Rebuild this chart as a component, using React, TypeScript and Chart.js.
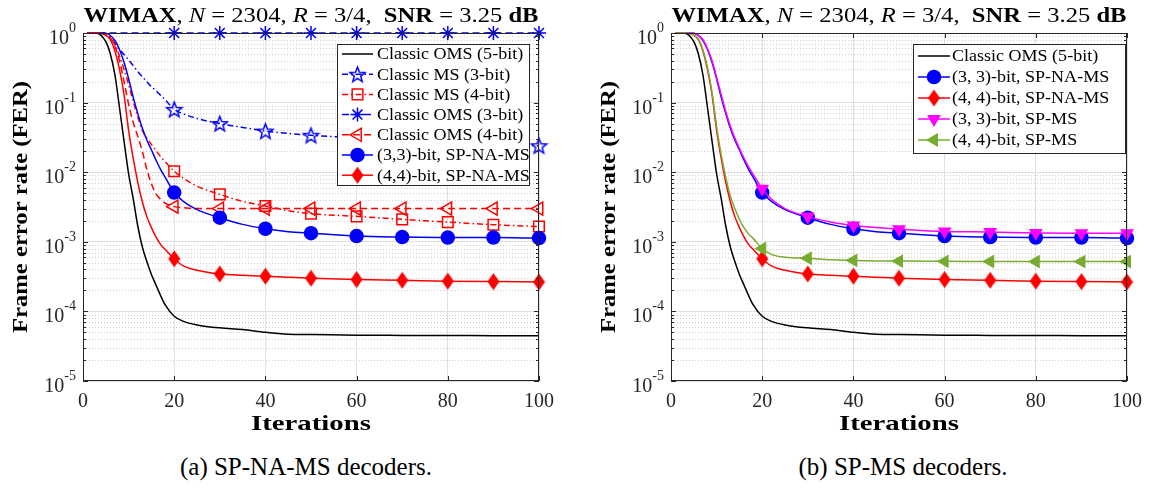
import React, { useEffect, useRef } from 'react';
import { Chart, registerables } from 'chart.js';
import { drawPoint } from 'chart.js/helpers';

Chart.register(...registerables);

const FONT = '"Liberation Serif", "Times New Roman", serif';
const AXIS_COLOR = '#262626';
const CANVAS_H = 440;
const PLOT_TOP = 33;
const PLOT_BOTTOM = 381;
const PLOT_LEFT = 83;

// ---------------- data ----------------
const ITERS = [1, 3, 5, 6, 7, 8, 9, 10, 11, 12, 13, 14, 15, 16, 17, 18, 20, 22, 25, 30, 35, 40, 45, 50, 60, 70, 80, 90, 100];
const MARKER_ITERS = [20, 30, 40, 50, 60, 70, 80, 90, 100];
const X_TICKS = [0, 20, 40, 60, 80, 100];
const Y_TICKS = [1e-5, 1e-4, 1e-3, 1e-2, 1e-1, 1];
const Y_EXPONENTS = ['-5', '-4', '-3', '-2', '-1', '0'];

const classicOms5 = [1, 0.995, 0.75, 0.5, 0.25, 0.085, 0.028, 0.0095, 0.0042, 0.0017, 0.00085, 0.00052, 0.00034, 0.00024, 0.00017, 0.000125, 0.000085, 0.000072, 0.000064, 0.000058, 0.000055, 0.00005, 0.000047, 0.0000465, 0.0000455, 0.0000452, 0.000045, 0.0000448, 0.0000445];
const classicMs3 = [1, 1, 0.94, 0.84, 0.7, 0.58, 0.49, 0.41, 0.34, 0.28, 0.235, 0.2, 0.17, 0.148, 0.128, 0.11, 0.08, 0.069, 0.059, 0.05, 0.044, 0.039, 0.036, 0.034, 0.031, 0.0285, 0.0265, 0.025, 0.024];
const classicMs4 = [1, 1, 0.97, 0.87, 0.68, 0.47, 0.3, 0.18, 0.105, 0.063, 0.04, 0.031, 0.025, 0.0205, 0.0168, 0.0142, 0.0103, 0.0082, 0.0063, 0.0048, 0.0038, 0.00327, 0.0028, 0.00254, 0.00232, 0.0021, 0.00192, 0.00176, 0.00166];
const classicOms3 = [1, 1, 1, 1, 1, 1, 1, 1, 1, 1, 1, 1, 1, 1, 1, 1, 1, 1, 1, 1, 1, 1, 1, 1, 1, 1, 1, 1, 1];
const classicOms4 = [1, 1, 0.95, 0.85, 0.64, 0.4, 0.2, 0.095, 0.052, 0.033, 0.02, 0.011, 0.0068, 0.0049, 0.0041, 0.0036, 0.0032, 0.0031, 0.003, 0.003, 0.003, 0.003, 0.003, 0.003, 0.003, 0.003, 0.003, 0.003, 0.003];
const spNaMs33 = [1, 1, 0.99, 0.92, 0.78, 0.58, 0.38, 0.22, 0.12, 0.07, 0.043, 0.029, 0.021, 0.015, 0.011, 0.0085, 0.0051, 0.0038, 0.0029, 0.00222, 0.00178, 0.00154, 0.0014, 0.00133, 0.00121, 0.00117, 0.00115, 0.00115, 0.00113];
const spNaMs44 = [1, 1, 0.93, 0.8, 0.55, 0.3, 0.13, 0.04, 0.016, 0.0072, 0.0038, 0.0023, 0.0016, 0.00118, 0.00092, 0.00078, 0.00057, 0.00045, 0.00039, 0.000345, 0.00033, 0.00032, 0.00031, 0.0003, 0.000287, 0.00028, 0.000272, 0.000268, 0.000265];
const spMs33 = [1, 1, 0.99, 0.93, 0.8, 0.6, 0.4, 0.23, 0.13, 0.075, 0.046, 0.031, 0.022, 0.016, 0.012, 0.0093, 0.0058, 0.0041, 0.003, 0.0023, 0.00193, 0.00172, 0.0016, 0.00152, 0.00141, 0.00138, 0.00134, 0.00133, 0.00133];
const spMs44 = [1, 1, 0.94, 0.82, 0.57, 0.32, 0.14, 0.045, 0.018, 0.0085, 0.0046, 0.003, 0.0021, 0.0016, 0.0013, 0.00112, 0.0008, 0.00066, 0.0006, 0.00058, 0.00055, 0.00054, 0.000532, 0.000528, 0.000524, 0.000522, 0.00052, 0.00052, 0.00052];

const TITLE_PARTS: [string, string][] = [
  ['WIMAX', 'bold'], [', ', 'normal'], ['N', 'italic'], [' = 2304, ', 'normal'], ['R', 'italic'],
  [' = 3/4,  ', 'normal'], ['SNR', 'bold'], [' = 3.25 ', 'normal'], ['dB', 'bold'],
];

// ---------------- marker images ----------------
function makePentagram(color: string) {
  const c = document.createElement('canvas');
  const s = 19;
  c.width = s; c.height = s;
  const g = c.getContext('2d')!;
  g.strokeStyle = color; g.lineWidth = 1.5; g.lineJoin = 'miter';
  g.beginPath();
  const R = 8, r = 3.4;
  for (let i = 0; i < 10; i++) {
    const a = -Math.PI / 2 + (i * Math.PI) / 5;
    const rr = i % 2 ? r : R;
    const x = s / 2 + rr * Math.cos(a);
    const y = s / 2 + 0.8 + rr * Math.sin(a);
    if (i) g.lineTo(x, y); else g.moveTo(x, y);
  }
  g.closePath(); g.stroke();
  return c;
}
function makeDiamond(color: string) {
  const c = document.createElement('canvas');
  c.width = 13; c.height = 18;
  const g = c.getContext('2d')!;
  g.fillStyle = color;
  g.beginPath();
  g.moveTo(6.5, 0.5); g.lineTo(12.5, 9); g.lineTo(6.5, 17.5); g.lineTo(0.5, 9); g.closePath();
  g.fill();
  return c;
}

const DASHED = [7, 4];
const DASHDOT = [6, 3, 1.5, 3];

type S = { label: string; y: number[]; color: string; dash: number[]; style: any; radius: number; rot: number; fill: boolean; };

function seriesLeft(): S[] {
  const star = makePentagram('#0000ff');
  const diamond = makeDiamond('#ff0000');
  return [
    { label: 'Classic OMS (5-bit)', y: classicOms5, color: '#000000', dash: [], style: 'circle', radius: 0, rot: 0, fill: false },
    { label: 'Classic MS (3-bit)', y: classicMs3, color: '#0000ff', dash: DASHDOT, style: star, radius: 7, rot: 0, fill: false },
    { label: 'Classic MS (4-bit)', y: classicMs4, color: '#ff0000', dash: DASHDOT, style: 'rect', radius: 7.5, rot: 0, fill: false },
    { label: 'Classic OMS (3-bit)', y: classicOms3, color: '#0000ff', dash: DASHED, style: 'star', radius: 7, rot: 0, fill: false },
    { label: 'Classic OMS (4-bit)', y: classicOms4, color: '#ff0000', dash: DASHED, style: 'triangle', radius: 7.5, rot: -90, fill: false },
    { label: '(3,3)-bit, SP-NA-MS', y: spNaMs33, color: '#0000ff', dash: [], style: 'circle', radius: 6.5, rot: 0, fill: true },
    { label: '(4,4)-bit, SP-NA-MS', y: spNaMs44, color: '#ff0000', dash: [], style: diamond, radius: 7, rot: 0, fill: true },
  ];
}
function seriesRight(): S[] {
  const diamond = makeDiamond('#ff0000');
  return [
    { label: 'Classic OMS (5-bit)', y: classicOms5, color: '#000000', dash: [], style: 'circle', radius: 0, rot: 0, fill: false },
    { label: '(3, 3)-bit, SP-NA-MS', y: spNaMs33, color: '#0000ff', dash: [], style: 'circle', radius: 6.5, rot: 0, fill: true },
    { label: '(4, 4)-bit, SP-NA-MS', y: spNaMs44, color: '#ff0000', dash: [], style: diamond, radius: 7, rot: 0, fill: true },
    { label: '(3, 3)-bit, SP-MS', y: spMs33, color: '#ff00ff', dash: [], style: 'triangle', radius: 6.5, rot: 180, fill: true },
    { label: '(4, 4)-bit, SP-MS', y: spMs44, color: '#77ac30', dash: [], style: 'triangle', radius: 6.5, rot: -90, fill: true },
  ];
}

// draw text horizontally stretched to a target width (mimics wide TeX fonts)
function fillStretched(ctx: CanvasRenderingContext2D, text: string, cx: number, cy: number, target: number) {
  const w = ctx.measureText(text).width;
  const sx = target / w;
  ctx.save();
  ctx.translate(cx, cy);
  ctx.scale(sx, 1);
  ctx.textAlign = 'center';
  ctx.fillText(text, 0, 0);
  ctx.restore();
}

const matlabPlugin = {
  id: 'matlab',
  beforeDatasetsDraw(chart: any) {
    const { ctx, chartArea: a, scales } = chart;
    const y = scales.y;
    ctx.save();
    ctx.strokeStyle = '#cfcfcf'; ctx.lineWidth = 1; ctx.setLineDash([1, 2]);
    for (let e = -5; e < 0; e++) {
      for (let m = 2; m <= 9; m++) {
        const py = Math.round(y.getPixelForValue(m * Math.pow(10, e))) + 0.5;
        ctx.beginPath(); ctx.moveTo(a.left, py); ctx.lineTo(a.right, py); ctx.stroke();
      }
    }
    ctx.restore();
  },
  afterDatasetsDraw(chart: any, _args: any, opts: any) {
    const { ctx, chartArea: a, scales } = chart;
    const x = scales.x, y = scales.y;
    ctx.save();
    // axes box and ticks
    ctx.strokeStyle = AXIS_COLOR; ctx.lineWidth = 1; ctx.setLineDash([]);
    ctx.strokeRect(a.left + 0.5, a.top + 0.5, a.right - a.left - 1, a.bottom - a.top - 1);
    ctx.beginPath();
    for (const v of X_TICKS) {
      const px = Math.round(x.getPixelForValue(v)) + 0.5;
      ctx.moveTo(px, a.bottom); ctx.lineTo(px, a.bottom - 5);
      ctx.moveTo(px, a.top); ctx.lineTo(px, a.top + 5);
    }
    for (let e = -5; e <= 0; e++) {
      for (let m = 1; m <= 9; m++) {
        if (e === 0 && m > 1) break;
        const py = Math.round(y.getPixelForValue(m * Math.pow(10, e))) + 0.5;
        const len = m === 1 ? 5 : 3;
        ctx.moveTo(a.left, py); ctx.lineTo(a.left + len, py);
        ctx.moveTo(a.right, py); ctx.lineTo(a.right - len, py);
      }
    }
    ctx.stroke();

    // y tick labels with superscripts
    ctx.fillStyle = AXIS_COLOR;
    ctx.textBaseline = 'alphabetic';
    Y_TICKS.forEach((v, i) => {
      const py = y.getPixelForValue(v);
      const sup = Y_EXPONENTS[i];
      ctx.font = `14px ${FONT}`;
      const ws = ctx.measureText(sup).width;
      ctx.font = `20px ${FONT}`;
      const wm = ctx.measureText('10').width;
      const right = a.left - 7;
      ctx.fillText('10', right - ws - wm, py + 11);
      ctx.font = `14px ${FONT}`;
      ctx.fillText(sup, right - ws, py - 1);
    });

    // axis titles
    ctx.fillStyle = '#000';
    ctx.font = `bold 21px ${FONT}`;
    ctx.textBaseline = 'middle';
    fillStretched(ctx, 'Iterations', (a.left + a.right) / 2, 425, 120);
    ctx.save();
    ctx.translate(a.left - 61, (a.top + a.bottom) / 2);
    ctx.rotate(-Math.PI / 2);
    fillStretched(ctx, 'Frame error rate (FER)', 0, 0, 252);
    ctx.restore();

    // title (mixed bold / italic / regular)
    ctx.textAlign = 'left'; ctx.textBaseline = 'alphabetic';
    const fontFor = (w: string) => (w === 'bold' ? `bold 21px ${FONT}` : w === 'italic' ? `italic 21px ${FONT}` : `21px ${FONT}`);
    let total = 0;
    for (const [t, w] of TITLE_PARTS) { ctx.font = fontFor(w); total += ctx.measureText(t).width; }
    const target = 455;
    const sx = target / total;
    ctx.save();
    ctx.translate((a.left + a.right) / 2 - target / 2, 22);
    ctx.scale(sx, 1);
    let tx = 0;
    for (const [t, w] of TITLE_PARTS) { ctx.font = fontFor(w); ctx.fillText(t, tx, 0); tx += ctx.measureText(t).width; }
    ctx.restore();

    // legend
    const L = opts.legend;
    const series: S[] = opts.series;
    ctx.fillStyle = '#ffffff';
    ctx.fillRect(L.x, L.y, L.w, L.h);
    ctx.strokeStyle = AXIS_COLOR; ctx.lineWidth = 1;
    ctx.strokeRect(L.x + 0.5, L.y + 0.5, L.w, L.h);
    series.forEach((s, i) => {
      const cy = L.y0 + i * L.dy;
      ctx.setLineDash(s.dash); ctx.strokeStyle = s.color; ctx.lineWidth = 1.5;
      ctx.beginPath(); ctx.moveTo(L.lx0, cy); ctx.lineTo(L.lx1, cy); ctx.stroke();
      ctx.setLineDash([]);
      if (s.radius > 0) {
        ctx.fillStyle = s.fill ? s.color : 'rgba(0,0,0,0)';
        ctx.strokeStyle = s.color; ctx.lineWidth = 1.5;
        drawPoint(ctx, { pointStyle: s.style, radius: s.radius, rotation: s.rot, borderWidth: 1.5 } as any, (L.lx0 + L.lx1) / 2, cy);
      }
      ctx.fillStyle = '#000'; ctx.font = `17px ${FONT}`; ctx.textBaseline = 'middle'; ctx.textAlign = 'left';
      ctx.save();
      ctx.translate(L.tx, cy + 1);
      ctx.scale(1.06, 1);
      ctx.fillText(s.label, 0, 0);
      ctx.restore();
    });
    ctx.restore();
  },
};

function Plot(props: { width: number; padRight: number; seriesFn: () => S[]; legend: any; left: number }) {
  const ref = useRef<HTMLCanvasElement>(null);
  useEffect(() => {
    const series = props.seriesFn();
    const datasets = series.map((s, i) => ({
      label: s.label,
      data: ITERS.map((it, k) => ({ x: it, y: s.y[k] })),
      borderColor: s.color,
      backgroundColor: s.fill ? s.color : 'rgba(0,0,0,0)',
      borderWidth: 1.5,
      borderDash: s.dash,
      pointStyle: s.style,
      rotation: s.rot,
      pointBorderWidth: 1.5,
      pointBackgroundColor: s.fill ? s.color : 'rgba(0,0,0,0)',
      pointBorderColor: s.color,
      pointRadius: (c: any) => (c.raw && MARKER_ITERS.includes(c.raw.x) ? s.radius : 0),
      cubicInterpolationMode: 'monotone',
      clip: false,
      order: -i,
    }));
    const chart = new Chart(ref.current!, {
      type: 'line',
      data: { datasets } as any,
      plugins: [matlabPlugin as any],
      options: {
        responsive: false,
        animation: false,
        events: [],
        layout: { padding: { left: 0, right: props.padRight, top: PLOT_TOP, bottom: 0 } },
        plugins: {
          legend: { display: false },
          tooltip: { enabled: false },
          matlab: { legend: props.legend, series },
        } as any,
        scales: {
          x: {
            type: 'linear', min: 0, max: 100,
            afterBuildTicks: (s: any) => { s.ticks = X_TICKS.map((v) => ({ value: v })); },
            afterFit: (s: any) => { s.height = CANVAS_H - PLOT_BOTTOM; },
            grid: { color: '#e0e0e0', drawTicks: false, lineWidth: 1 },
            border: { display: false },
            ticks: { font: { family: FONT, size: 20 }, color: AXIS_COLOR, padding: 9, maxRotation: 0, autoSkip: false },
          },
          y: {
            type: 'logarithmic', min: 1e-5, max: 1,
            afterBuildTicks: (s: any) => { s.ticks = Y_TICKS.map((v) => ({ value: v })); },
            afterFit: (s: any) => { s.width = PLOT_LEFT; },
            grid: { color: '#e0e0e0', drawTicks: false, lineWidth: 1 },
            border: { display: false },
            ticks: { display: false },
          },
        } as any,
      },
    });
    return () => chart.destroy();
  }, []);
  return (
    <canvas ref={ref} width={props.width} height={CANVAS_H}
      style={{ position: 'absolute', left: props.left, top: 0, width: props.width, height: CANVAS_H }} />
  );
}

const captionStyle = (center: number): React.CSSProperties => ({
  position: 'absolute', left: center - 250, width: 500, top: 452, height: 30, lineHeight: '30px',
  textAlign: 'center', fontFamily: FONT, fontSize: 25, color: '#000',
});

export default function App() {
  const legendLeft = { x: 337, y: 44, w: 192, h: 141, y0: 54, dy: 20.2, lx0: 342, lx1: 373, tx: 377 };
  const legendRight = { x: 325, y: 44, w: 212, h: 109, y0: 56, dy: 21, lx0: 330, lx1: 362, tx: 364 };
  return (
    <div style={{ position: 'fixed', left: 0, top: 0, width: 1153, height: 491, background: '#fff', overflow: 'hidden' }}>
      <Plot width={576} padRight={37} seriesFn={seriesLeft} legend={legendLeft} left={0} />
      <Plot width={565} padRight={26} seriesFn={seriesRight} legend={legendRight} left={588} />
      <div style={captionStyle(306)}>(a) SP-NA-MS decoders.</div>
      <div style={captionStyle(903)}>(b) SP-MS decoders.</div>
    </div>
  );
}
